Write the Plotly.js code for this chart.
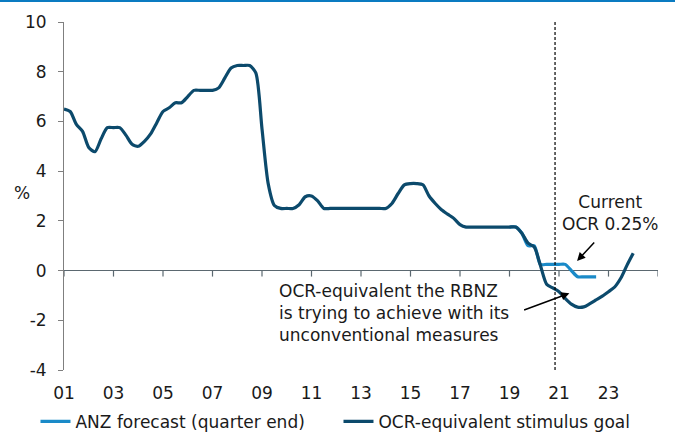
<!DOCTYPE html>
<html>
<head>
<meta charset="utf-8">
<script src="https://cdn.plot.ly/plotly-3.0.1.min.js"></script>
<style>
html,body{margin:0;padding:0;background:#fff;}
#chart{width:675px;height:433px;}
</style>
</head>
<body>
<div id="chart"></div>
<script>
// Quarterly dates (decimal years)
const goalDates = [
  2001.00,2001.25,2001.50,2001.75,2002.00,2002.25,2002.50,2002.75,
  2003.00,2003.25,2003.50,2003.75,2004.00,2004.25,2004.50,2004.75,
  2005.00,2005.25,2005.50,2005.75,2006.00,2006.25,2006.50,2006.75,
  2007.00,2007.25,2007.50,2007.75,2008.00,2008.25,2008.50,2008.75,
  2009.00,2009.25,2009.50,2009.75,2010.00,2010.25,2010.50,2010.75,
  2011.00,2011.25,2011.50,2011.75,2012.00,2012.25,2012.50,2012.75,
  2013.00,2013.25,2013.50,2013.75,2014.00,2014.25,2014.50,2014.75,
  2015.00,2015.25,2015.50,2015.75,2016.00,2016.25,2016.50,2016.75,
  2017.00,2017.25,2017.50,2017.75,2018.00,2018.25,2018.50,2018.75,
  2019.00,2019.25,2019.50,2019.75,2020.00,2020.25,2020.50,2020.75,
  2021.00,2021.25,2021.50,2021.75,2022.00,2022.25,2022.50,2022.75,
  2023.00,2023.25,2023.50,2023.75,2024.00
];
// OCR-equivalent stimulus goal (%)
const goalValues = [
  6.50,6.40,5.88,5.60,4.95,4.78,5.30,5.75,
  5.75,5.75,5.45,5.08,5.00,5.20,5.50,5.95,
  6.40,6.55,6.75,6.75,7.00,7.25,7.25,7.25,
  7.25,7.35,7.75,8.15,8.25,8.25,8.25,7.95,
  5.70,3.50,2.62,2.50,2.50,2.50,2.65,2.97,
  3.00,2.80,2.50,2.50,2.50,2.50,2.50,2.50,
  2.50,2.50,2.50,2.50,2.50,2.70,3.10,3.45,
  3.50,3.50,3.45,3.00,2.70,2.45,2.27,2.10,
  1.85,1.75,1.75,1.75,1.75,1.75,1.75,1.75,
  1.75,1.75,1.50,1.10,0.95,0.20,-0.55,-0.70,
  -0.85,-1.12,-1.35,-1.47,-1.46,-1.33,-1.18,-1.03,
  -0.85,-0.66,-0.30,0.22,0.70
];
// ANZ forecast (quarter end, %)
const forecastDates = [
  2019.00,2019.25,2019.50,2019.75,2020.00,2020.25,2020.50,2020.75,
  2021.00,2021.25,2021.50,2021.75,2022.00,2022.25,2022.50
];
const forecastValues = [
  1.75,1.75,1.50,1.00,1.00,0.25,0.25,0.25,
  0.25,0.25,0.00,-0.25,-0.25,-0.25,-0.25
];
const tickYears = [2001,2003,2005,2007,2009,2011,2013,2015,2017,2019,2021,2023,2025];
const tickLabels = ["01","03","05","07","09","11","13","15","17","19","21","23",""];
const yTickVals = [-4,-2,0,2,4,6,8,10];
const yTickLabels = ["-4","-2","0","2","4","6","8","10"];
const currentDate = 2020.84;
const seriesNames = ["ANZ forecast (quarter end)","OCR-equivalent stimulus goal"];

const FONT = "DejaVu Sans, Verdana, sans-serif";
const lightBlue = "#1a8ac8";
const navy = "#0c4a6c";
const axisGrey = "#5b6870";

const traces = [
  {x: forecastDates, y: forecastValues, type: "scatter", mode: "lines",
   name: seriesNames[0], line: {color: lightBlue, width: 3.2, shape: "spline", smoothing: 0.7},
   hoverinfo: "skip"},
  {x: goalDates, y: goalValues, type: "scatter", mode: "lines",
   name: seriesNames[1], line: {color: navy, width: 3.2, shape: "spline", smoothing: 0.7},
   hoverinfo: "skip"}
];

// small downward tick marks on the zero line, one per x tick
const zeroTicks = tickYears.map(yr => ({
  type: "line", xref: "x", yref: "y", ysizemode: "pixel", yanchor: 0,
  x0: yr, x1: yr, y0: 0, y1: -6, layer: "below",
  line: {color: axisGrey, width: 1.2}
}));

const layout = {
  width: 675, height: 433,
  margin: {l: 64, r: 17, t: 22, b: 63, autoexpand: false},
  paper_bgcolor: "#fff", plot_bgcolor: "#fff",
  font: {family: FONT, size: 17, color: "#1a1a1a"},
  showlegend: true,
  legend: {orientation: "h", x: -0.048, xanchor: "left", y: -0.149, yanchor: "middle",
           font: {family: FONT, size: 17, color: "#1a1a1a"},
           entrywidth: 258, entrywidthmode: "pixels", traceorder: "normal",
           bgcolor: "rgba(0,0,0,0)"},
  xaxis: {range: [2001, 2025], tickvals: tickYears, ticktext: tickLabels,
          showline: false, showgrid: false, zeroline: false,
          ticks: "", ticklabelstandoff: 11,
          tickfont: {family: FONT, size: 17, color: "#1a1a1a"}, fixedrange: true},
  yaxis: {range: [-4, 10], tickvals: yTickVals, ticktext: yTickLabels, showline: true, linecolor: "#7f7f7f",
          linewidth: 1, ticks: "outside", ticklen: 5, tickcolor: "#7f7f7f",
          showgrid: false, zeroline: true, zerolinecolor: axisGrey, zerolinewidth: 1.6,
          ticklabelstandoff: 8,
          tickfont: {family: FONT, size: 17, color: "#1a1a1a"}, fixedrange: true},
  shapes: [
    ...zeroTicks,
    {type: "line", xref: "x", yref: "paper", x0: currentDate, x1: currentDate, y0: 0, y1: 1,
     line: {color: "#000", width: 1.2, dash: "3px,2px"}},
    {type: "line", xref: "paper", yref: "paper", x0: -0.108, x1: 1.029, y0: 1.0603, y1: 1.0603,
     line: {color: "#0a7bc1", width: 2}}
  ],
  annotations: [
    {xref: "paper", yref: "paper", x: (21.7 - 64) / 594, y: (370 - 193) / 348,
     text: "%", showarrow: false, xanchor: "center", yanchor: "middle",
     font: {family: FONT, size: 17, color: "#1a1a1a"}},
    {xref: "x", yref: "y", x: 2009.62, y: -1.71, xanchor: "left", yanchor: "middle", align: "left",
     text: "OCR-equivalent the RBNZ<br>is trying to achieve with its<br>unconventional measures",
     showarrow: false, font: {family: FONT, size: 17, color: "#1a1a1a"}},
    {xref: "x", yref: "y", x: 2023.06, y: 2.32, xanchor: "center", yanchor: "middle", align: "center",
     text: "Current<br>OCR 0.25%", showarrow: false,
     font: {family: FONT, size: 17, color: "#1a1a1a"}},
    {xref: "x", yref: "y", x: 2021.73, y: 0.39, axref: "x", ayref: "y", ax: 2022.48, ay: 1.19,
     text: "", showarrow: true, arrowhead: 2, arrowsize: 1.1, arrowwidth: 1.5, arrowcolor: "#000"},
    {xref: "x", yref: "y", x: 2021.42, y: -0.91, axref: "x", ayref: "y", ax: 2019.53, ay: -1.61,
     text: "", showarrow: true, arrowhead: 2, arrowsize: 1.1, arrowwidth: 1.5, arrowcolor: "#000"}
  ]
};

Plotly.newPlot("chart", traces, layout, {staticPlot: true, displayModeBar: false});
</script>
</body>
</html>
